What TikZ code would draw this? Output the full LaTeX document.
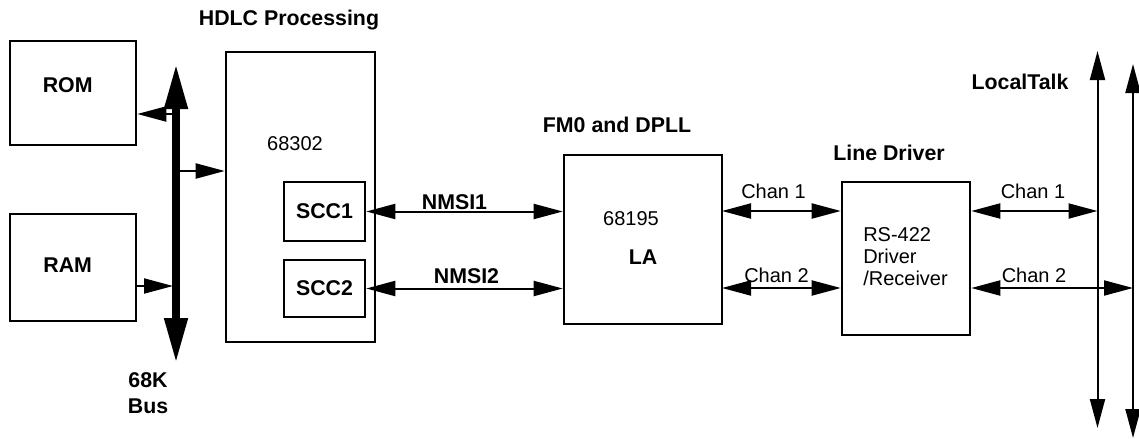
\documentclass[tikz,border=0pt]{standalone}
\usepackage{fontspec}
\setmainfont{Liberation Sans}
\usetikzlibrary{arrows.meta}

\begin{document}
\begin{tikzpicture}[x=0.75pt, y=-0.75pt,
    blk/.style={draw, line width=1.9pt, inner sep=0pt},
    ttl/.style={font=\fontsize{16}{19}\selectfont\bfseries, inner sep=0pt},
    txt/.style={font=\fontsize{15}{18}\selectfont, inner sep=0pt},
    arr/.style={line width=1.5pt, -{Triangle[length=21.75pt, width=11.25pt]}},
    darr/.style={line width=1.5pt, {Triangle[length=21.75pt, width=11.25pt]}-{Triangle[length=21.75pt, width=11.25pt]}},
    busline/.style={line width=5.8pt, {Triangle[length=33.75pt, width=16.5pt]}-{Triangle[length=33.75pt, width=16.5pt]}}]
    \useasboundingbox (0,0) rectangle (1139,439);

    % --- 1. memory blocks ---
    \node[blk, minimum width=94.5pt, minimum height=78pt] (rom) at (73,93) {};
    \node[blk, minimum width=94.5pt, minimum height=80.25pt] (ram) at (73,267.5) {};
    \node[ttl] at (rom.center) [xshift=-4pt, yshift=6pt] {ROM};
    \node[ttl] at (ram.center) [xshift=-4pt, yshift=2pt] {RAM};

    % --- 2. the 68K bus ---
    \coordinate (bustop) at (176,64);
    \coordinate (busbot) at (176,363);
    \draw[busline] (bustop) -- (busbot);
    \node[ttl, align=center] (buslbl) at (148,393) {68K\\Bus};

    % --- 3. HDLC processor with its two SCCs ---
    \node[blk, minimum width=111.75pt, minimum height=217.5pt] (cpu) at (300.5,197) {};
    \node[ttl] (hdlc) at (289,20) {HDLC Processing};
    \node[txt] (cpulbl) at (295,144) {68302};
    \node[blk, minimum width=60.75pt, minimum height=44.25pt] (scc1) at (324.5,211.5) {};
    \node[blk, minimum width=60.75pt, minimum height=42.75pt] (scc2) at (324.5,288.5) {};
    \node[ttl] at (scc1.center) {SCC1};
    \node[ttl] at (scc2.center) {SCC2};

    % --- 4. bus connections ---
    \coordinate (b1) at (173,114);
    \coordinate (b2) at (179,171);
    \coordinate (b3) at (173,286);
    \draw[arr] (b1) -- (b1 -| rom.east);
    \draw[arr] (b2) -- (b2 -| cpu.west);
    \draw[arr] (b3 -| ram.east) -- (b3);

    % --- 5. FM0 / DPLL block ---
    \node[blk, minimum width=118.5pt, minimum height=126.75pt] (la) at (643,239.5) {};
    \node[ttl] (fm0) at (617,124.5) {FM0 and DPLL};
    \node[txt] (lachip) at (631,218.5) {68195};
    \node[ttl] (lalbl) at (643,257) {LA};

    \draw[darr] (scc1.east) -- (scc1.east -| la.west);
    \draw[darr] (scc2.east) -- (scc2.east -| la.west);
    \node[ttl] (nmsi1) at (454.5,202.5) {NMSI1};
    \node[ttl] (nmsi2) at (466.5,276.5) {NMSI2};

    % --- 6. line driver ---
    \node[blk, minimum width=96pt, minimum height=114.75pt] (drv) at (906,258.5) {};
    \node[ttl] (drvttl) at (889,152.5) {Line Driver};
    \node[txt, align=left, anchor=north west, font=\fontsize{15}{16.5}\selectfont] (drvlbl) at (863,227) {RS-422\\Driver\\/Receiver};

    \coordinate (c1) at (722,211);
    \coordinate (c2) at (722,288);
    \draw[darr] (c1) -- (c1 -| drv.west);
    \draw[darr] (c2) -- (c2 -| drv.west);
    \node[txt] (chan1a) at (773.5,191.5) {Chan 1};
    \node[txt] (chan2a) at (776.5,275) {Chan 2};

    % --- 7. LocalTalk lines ---
    \coordinate (lt1top) at (1097.5,51);
    \coordinate (lt1bot) at (1097.5,428);
    \coordinate (lt2top) at (1133,64);
    \coordinate (lt2bot) at (1133,438);
    \draw[darr] (lt1top) -- (lt1bot);
    \draw[darr] (lt2top) -- (lt2bot);
    \node[ttl] (lt) at (1020,82) {LocalTalk};

    \draw[darr] (c1 -| drv.east) -- (c1 -| lt1top);
    \draw[darr] (c2 -| drv.east) -- (c2 -| lt2top);
    \node[txt] (chan1b) at (1033,191.5) {Chan 1};
    \node[txt] (chan2b) at (1034,275) {Chan 2};

\end{tikzpicture}
\end{document}
